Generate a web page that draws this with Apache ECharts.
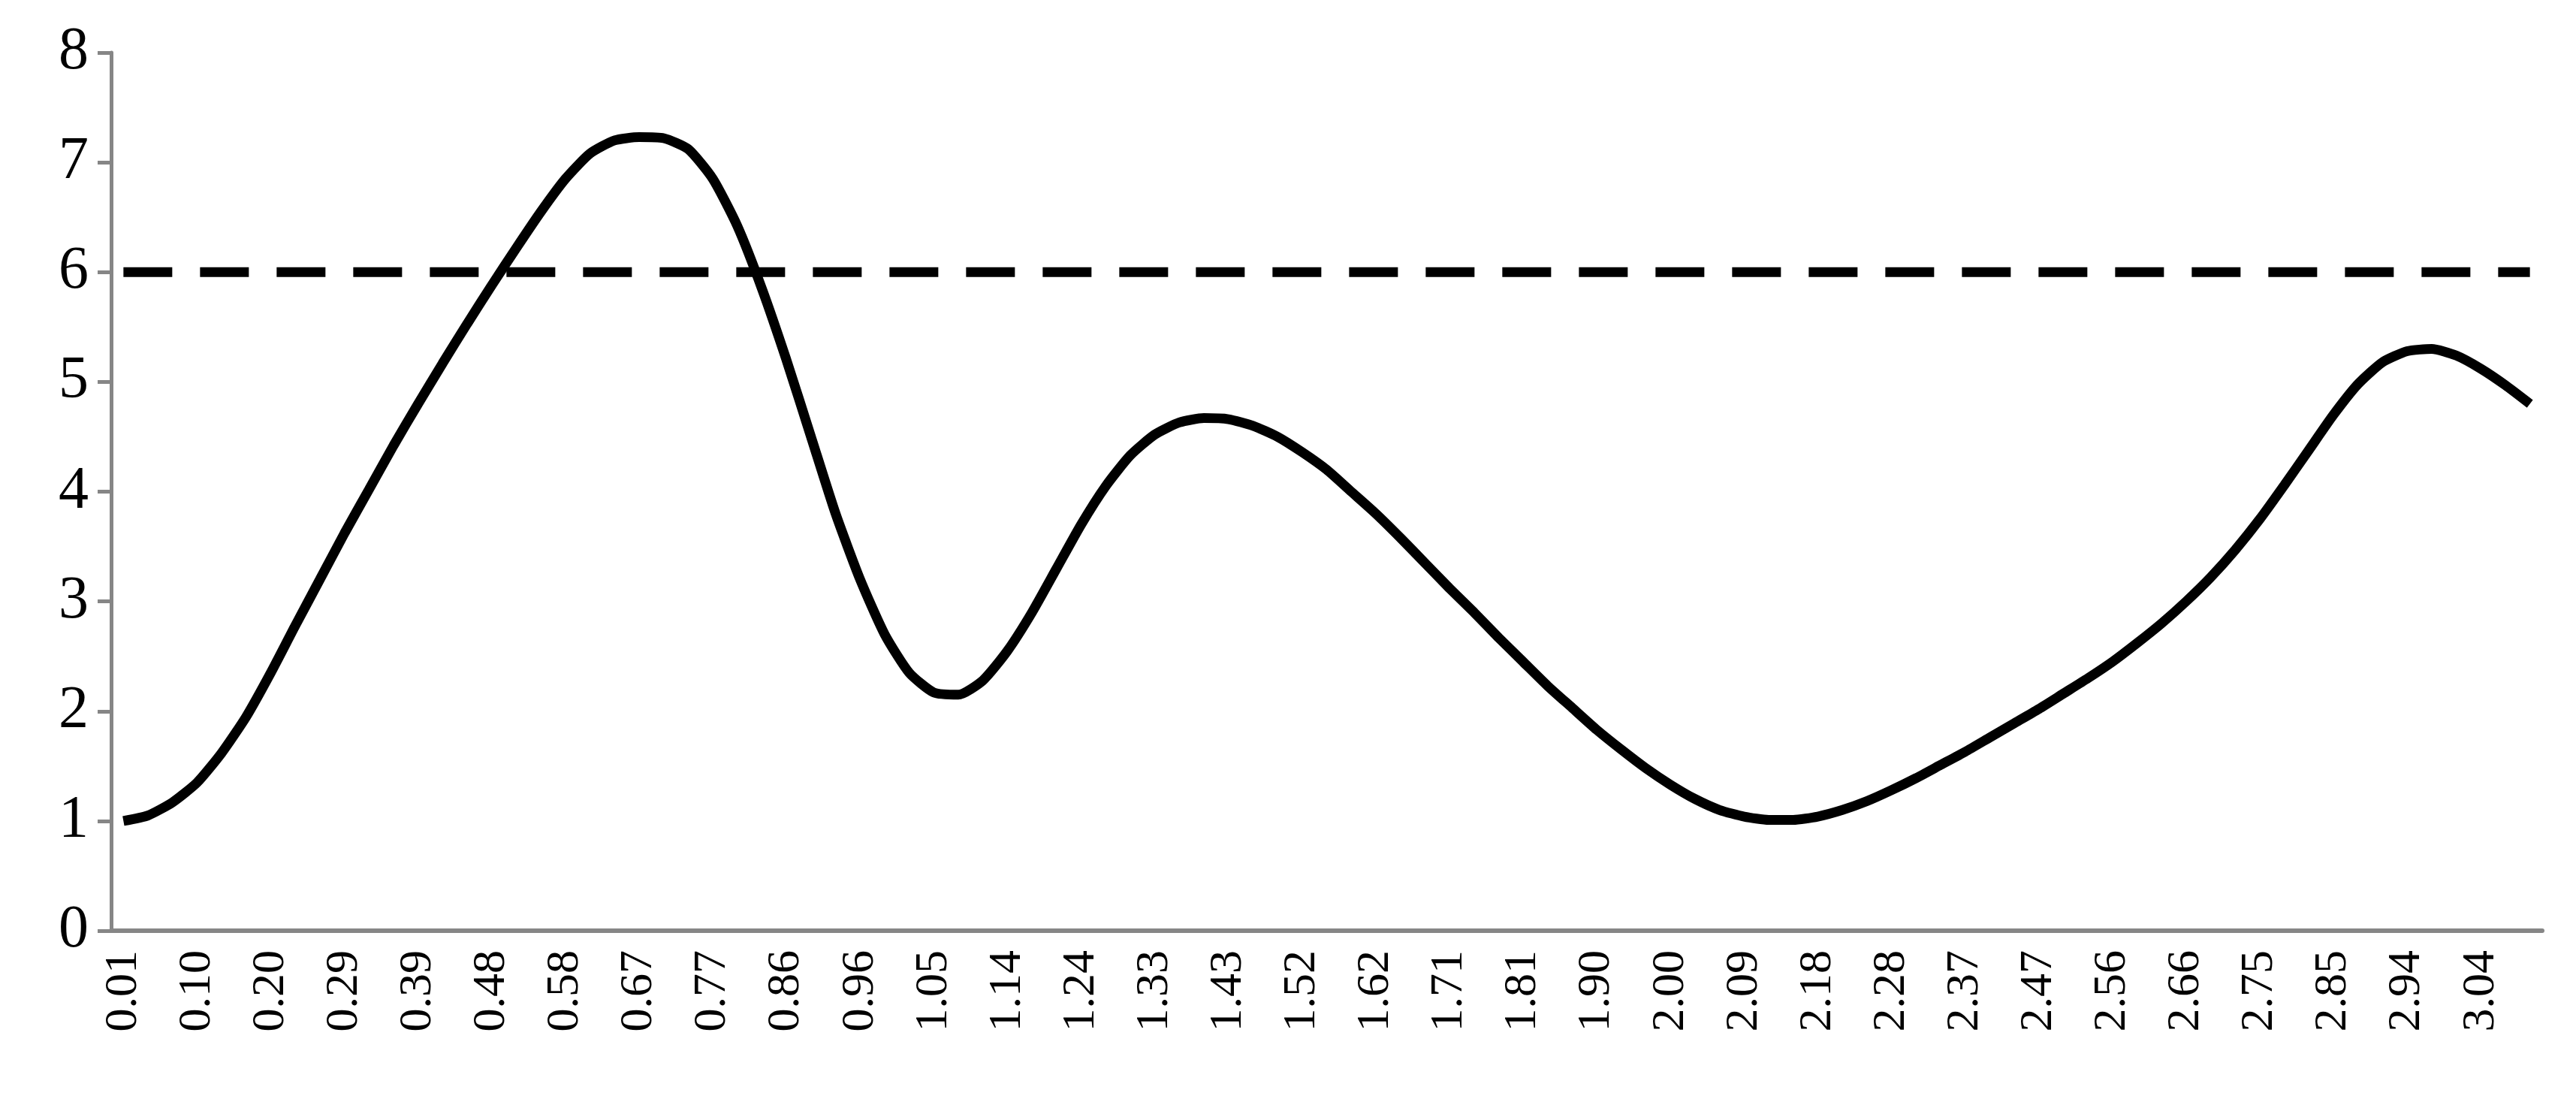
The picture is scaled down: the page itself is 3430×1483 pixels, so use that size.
<!DOCTYPE html>
<html><head><meta charset="utf-8">
<script src="https://cdn.jsdelivr.net/npm/echarts@6/dist/echarts.min.js"></script>
<style>html,body{margin:0;background:#fff}#c{width:3430px;height:1483px}</style>
</head><body><div id="c"></div>
<script>
const tickLabels = ['0.01','0.10','0.20','0.29','0.39','0.48','0.58','0.67','0.77','0.86','0.96','1.05','1.14','1.24','1.33','1.43','1.52','1.62','1.71','1.81','1.90','2.00','2.09','2.18','2.28','2.37','2.47','2.56','2.66','2.75','2.85','2.94','3.04'];
const values = [1.0,1.05,1.17,1.35,1.62,1.95,2.35,2.78,3.2,3.62,4.02,4.42,4.8,5.17,5.53,5.88,6.22,6.55,6.85,7.08,7.2,7.23,7.22,7.12,6.85,6.42,5.85,5.2,4.5,3.8,3.2,2.7,2.35,2.17,2.15,2.28,2.55,2.9,3.3,3.7,4.05,4.33,4.52,4.63,4.67,4.66,4.6,4.5,4.36,4.2,4.0,3.8,3.58,3.35,3.12,2.9,2.67,2.45,2.23,2.03,1.83,1.65,1.48,1.33,1.2,1.1,1.04,1.01,1.01,1.04,1.1,1.18,1.28,1.39,1.51,1.63,1.76,1.89,2.02,2.16,2.3,2.45,2.62,2.8,3.0,3.22,3.47,3.75,4.06,4.38,4.7,4.98,5.18,5.28,5.3,5.24,5.12,4.97,4.8];
const threshold = 6;
const categories = values.map((v,i)=> i%3===0 ? tickLabels[i/3] : ' '+i);
const chart = echarts.init(document.getElementById('c'));
const axisGray = '#868686';
chart.setOption({
  animation:false,
  grid:{left:148,right:45,top:70,bottom:244},
  xAxis:{type:'category',data:categories,boundaryGap:true,
    axisLine:{lineStyle:{color:axisGray,width:6}},
    axisTick:{interval:0,length:22,lineStyle:{color:axisGray,width:5}},
    axisLabel:{interval:2,rotate:90,fontFamily:'Liberation Serif',fontSize:62,color:'#000',margin:26,
      formatter:v=>v.startsWith(' ')?'':v}},
  yAxis:{type:'value',min:0,max:8,interval:1,
    axisLine:{show:true,lineStyle:{color:axisGray,width:5}},
    axisTick:{show:true,length:18,lineStyle:{color:axisGray,width:5}},
    splitLine:{show:false},
    axisLabel:{fontFamily:'Liberation Serif',fontSize:80,color:'#000',margin:30}},
  series:[
    {type:'line',data:values,smooth:0.2,symbol:'none',lineStyle:{color:'#000',width:13}},
    {type:'line',data:values.map(()=>threshold),symbol:'none',lineStyle:{color:'#000',width:13,type:[65,37]}}
  ]
});
</script></body></html>
